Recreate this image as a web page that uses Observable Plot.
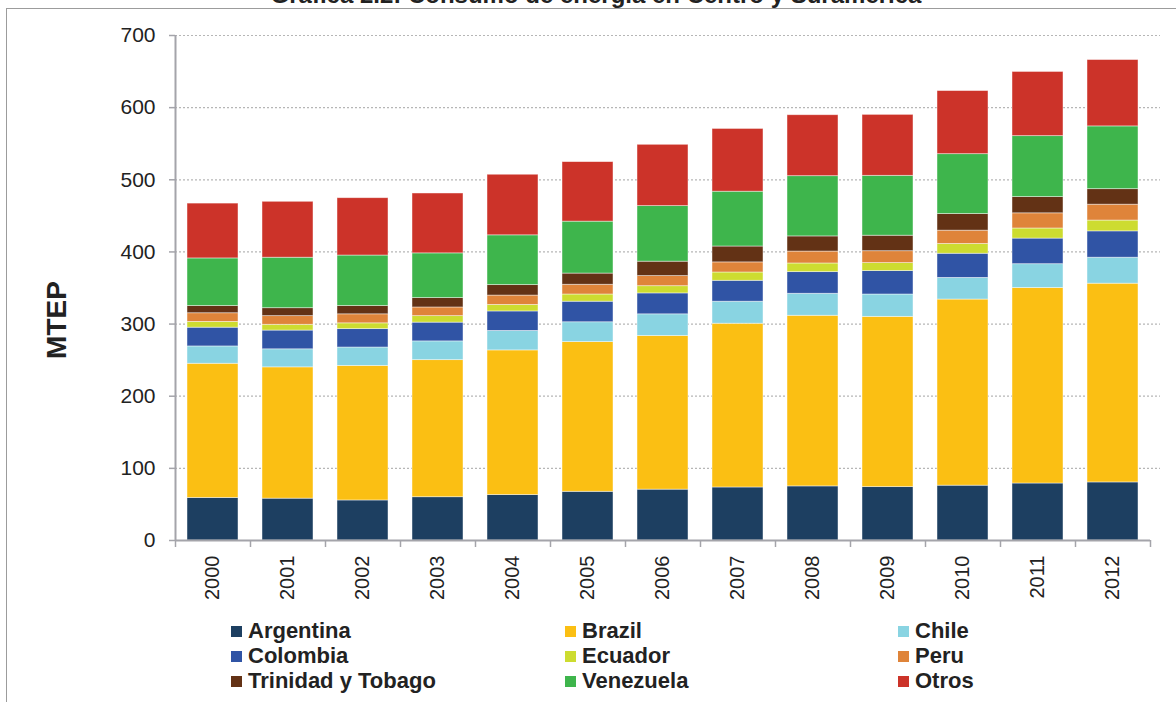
<!DOCTYPE html>
<html>
<head>
<meta charset="utf-8">
<script src="https://cdn.jsdelivr.net/npm/d3@7"></script>
<script src="https://cdn.jsdelivr.net/npm/@observablehq/plot@0.6"></script>
<style>
html,body{margin:0;padding:0;background:#fff;}
#wrap{position:relative;width:1176px;height:702px;overflow:hidden;font-family:"Liberation Sans",Arial,sans-serif;color:#222;}
#title{position:absolute;left:0;width:1192px;top:-17px;text-align:center;font-weight:bold;font-size:24px;line-height:24px;color:#222;white-space:nowrap;}
#frame{position:absolute;left:6px;top:8px;width:1180px;height:700px;border-left:1.5px solid #9c9c9c;border-top:1.5px solid #9c9c9c;}
#chart{position:absolute;left:0;top:0;}
#ylabel{position:absolute;left:57px;top:320px;transform:translate(-50%,-50%) rotate(-90deg);font-weight:bold;font-size:28px;white-space:nowrap;}
.lg{position:absolute;display:flex;align-items:center;font-weight:bold;font-size:22px;line-height:22px;white-space:nowrap;color:#222;}
.lg span.sw{display:inline-block;width:11px;height:11px;margin-right:6px;}
</style>
</head>
<body>
<div id="wrap">
  <div id="title">Gráfica 2.2: Consumo de energía en Centro y Suramérica</div>
  <div id="frame"></div>
  <div id="chart"></div>
  <div id="ylabel">MTEP</div>
  <div id="legend"></div>
</div>
<script>
const years = ["2000","2001","2002","2003","2004","2005","2006","2007","2008","2009","2010","2011","2012"];
const countries = ["Argentina","Brazil","Chile","Colombia","Ecuador","Peru","Trinidad y Tobago","Venezuela","Otros"];
const colors = ["#1d3f61","#fbbf13","#89d4e2","#3054a5","#cddc30","#df843a","#633215","#3eb54c","#cc3329"];
const yTicks = [0,100,200,300,400,500,600,700];

const argentina = [59, 58, 55.5, 60, 63, 67.5, 70.5, 73.5, 75, 74, 76, 79, 80.5];
const brazil    = [186, 182, 186.5, 190, 200.5, 207.5, 213, 227, 236.5, 236, 258, 271, 275.5];
const chile     = [24, 25, 25.5, 26, 27, 27.5, 30, 30.5, 30.5, 31, 30, 33, 36];
const colombia  = [26, 26, 25.5, 26, 27, 28.5, 29, 29, 30, 32.5, 33.5, 35.5, 36.5];
const ecuador   = [8, 8, 8, 9, 9, 10, 10, 11.5, 12, 11, 13.5, 14, 15];
const peru      = [12, 12, 12.5, 12, 13, 13.5, 14, 14, 16.5, 16.5, 18.5, 21, 22];
const trinidad  = [10, 11, 11.5, 13, 14.5, 15.5, 20, 22, 21, 21.5, 23, 22.5, 21.5];
const venezuela = [66, 70, 70, 62, 69, 72, 77, 76, 83.5, 83, 83, 84.5, 87];
const otros     = [76, 77.5, 79.5, 83, 84, 82.5, 85, 87, 84.5, 84.5, 87.5, 89, 92];

const series = [argentina, brazil, chile, colombia, ecuador, peru, trinidad, venezuela, otros];
const rows = countries.flatMap((c, i) => years.map((y, j) => ({year: y, country: c, value: series[i][j]})));

const W = 1176, ML = 175, MR = 26;
const step = (W - ML - MR) / years.length;
const axisColor = "#a4a4aa";

const chart = Plot.plot({
  width: W, height: 610,
  marginLeft: ML, marginRight: MR, marginTop: 35, marginBottom: 70,
  style: {fontFamily: "'Liberation Sans', Arial, sans-serif", color: "#222", background: "transparent", overflow: "visible"},
  x: {domain: years, paddingInner: 0.32, paddingOuter: 0.16, label: null},
  y: {domain: [0, 700], label: null},
  color: {domain: countries, range: colors},
  marks: [
    Plot.ruleY(yTicks.slice(1), {stroke: "#b6b6b6", strokeDasharray: "2,2", strokeWidth: 1.2, insetRight: -10}),
    Plot.barY(rows, {x: "year", y: "value", fill: "country", stroke: "#ffffff", strokeOpacity: 0.55, strokeWidth: 0.8}),
    Plot.ruleY([0], {stroke: axisColor, strokeWidth: 2}),
    Plot.ruleX([years[0]], {dx: -step / 2, stroke: axisColor, strokeWidth: 2}),
    Plot.axisY({ticks: yTicks, tickSize: 6, tickPadding: 14, fontSize: 21, stroke: axisColor, strokeWidth: 1.5, label: null}),
    Plot.axisX({tickSize: 0, tickPadding: 15, tickRotate: -90, fontSize: 20, label: null}),
    Plot.axisX({tickSize: 7, text: null, dx: -step / 2, stroke: axisColor, strokeWidth: 1.5, label: null}),
    Plot.axisX([years[years.length - 1]], {tickSize: 7, text: null, dx: step / 2, stroke: axisColor, strokeWidth: 1.5, label: null})
  ]
});
document.getElementById("chart").appendChild(chart);

const legend = document.getElementById("legend");
const colX = [231, 565, 898];
countries.forEach((c, i) => {
  const d = document.createElement("div");
  d.className = "lg";
  d.style.left = colX[i % 3] + "px";
  d.style.top = (631 + 25 * Math.floor(i / 3) - 11) + "px";
  const sw = document.createElement("span");
  sw.className = "sw";
  sw.style.background = colors[i];
  d.appendChild(sw);
  d.appendChild(document.createTextNode(c));
  legend.appendChild(d);
});
</script>
</body>
</html>
